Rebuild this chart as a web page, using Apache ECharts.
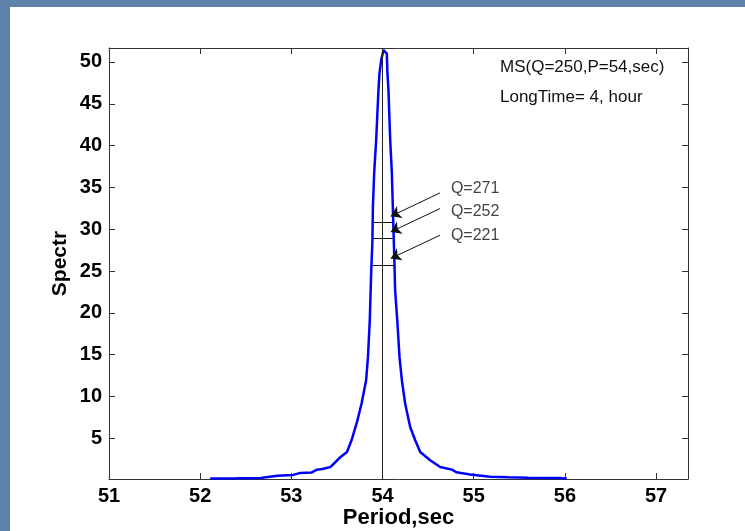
<!DOCTYPE html>
<html>
<head>
<meta charset="utf-8">
<script src="https://cdn.jsdelivr.net/npm/echarts@6/dist/echarts.min.js"></script>
<style>
html,body{margin:0;padding:0;background:#5e82aa;}
#c{width:745px;height:531px;}
</style>
</head>
<body>
<div id="c"></div>
<script>
// ---- data ----
const period = [52.11, 52.40, 52.67, 52.70, 52.85, 53.02, 53.10, 53.22, 53.28, 53.34, 53.43, 53.54, 53.61, 53.66, 53.72, 53.77, 53.82, 53.84, 53.86, 53.875, 53.889, 53.894, 53.908, 53.93, 53.955, 53.966, 53.985, 54.01, 54.03, 54.047, 54.054, 54.065, 54.084, 54.102, 54.113, 54.131, 54.138, 54.164, 54.186, 54.212, 54.248, 54.303, 54.358, 54.413, 54.522, 54.632, 54.761, 54.81, 54.96, 55.18, 55.38, 55.60, 55.94, 56.02];
const spectr = [0.20, 0.22, 0.25, 0.32, 0.52, 0.62, 0.86, 0.90, 1.25, 1.32, 1.57, 2.76, 3.36, 4.76, 6.95, 9.15, 11.94, 14.7, 19.1, 24.7, 28.7, 32.6, 36.7, 40.65, 46.6, 48.6, 50.2, 51.4, 51.6, 51.0, 48.6, 46.6, 40.65, 36.7, 32.6, 25.7, 22.7, 18.7, 14.7, 11.94, 9.15, 6.35, 4.76, 3.36, 2.37, 1.57, 1.25, 0.94, 0.66, 0.41, 0.33, 0.28, 0.25, 0.20];
const xTicks = [51, 52, 53, 54, 55, 56, 57];
const yTicks = [5, 10, 15, 20, 25, 30, 35, 40, 45, 50];
const xRange = [51, 57.35];
const yRange = [0.13, 51.67];
const centerPeriod = 54;
// Q-width annotations
const qLabels = ['Q=271', 'Q=252', 'Q=221'];
const qLevels = [30.8, 28.9, 25.7];
const qLeft = [53.905, 53.895, 53.889];
const qRight = [54.104, 54.113, 54.131];
const arrowFromX = 54.63;
const arrowFromY = [34.34, 32.47, 29.28];
const arrowToX = 54.09;
const arrowToY = [31.55, 29.68, 26.5];
const qTextX = 54.75;
const qTextY = [34.9, 32.07, 29.2];
const infoLines = ['MS(Q=250,P=54,sec)', 'LongTime= 4, hour'];

// ---- build ----
const FONT = '"Liberation Sans", Arial, sans-serif';
const curve = period.map((p, i) => [p, spectr[i]]);
const hLines = qLevels.map((y, i) => ({coords: [[qLeft[i], y], [qRight[i], y]]}));
const arrows = arrowFromY.map((y, i) => ({coords: [[arrowFromX, y], [arrowToX, arrowToY[i]]]}));
const qText = qLabels.map((t, i) => ({value: [qTextX, qTextY[i]], name: t}));

const axisLine = {show: true, lineStyle: {color: '#333', width: 1}};
const tickIn = (vals) => ({show: true, inside: true, length: 6, lineStyle: {color: '#333', width: 1}, customValues: vals});

const chart = echarts.init(document.getElementById('c'), null, {renderer: 'canvas'});
chart.setOption({
  animation: false,
  backgroundColor: '#5e82aa',
  textStyle: {fontFamily: FONT},
  graphic: [
    {type: 'rect', z: -100, silent: true, shape: {x: 10, y: 7, width: 735, height: 524}, style: {fill: '#ffffff'}},
    {type: 'text', left: 500, top: 59, style: {text: infoLines[0], font: '17px ' + FONT, fill: '#111'}},
    {type: 'text', left: 500, top: 89, style: {text: infoLines[1], font: '17px ' + FONT, fill: '#111'}}
  ],
  grid: {left: 109, right: 57, top: 48, bottom: 52, outerBoundsMode: 'none', containLabel: false},
  xAxis: [
    {type: 'value', min: xRange[0], max: xRange[1], position: 'bottom',
     name: 'Period,sec', nameLocation: 'middle', nameGap: 28, nameMoveOverlap: false,
     nameTextStyle: {fontSize: 22, color: '#000', fontFamily: FONT, fontWeight: 'bold'},
     axisLine: axisLine, axisTick: tickIn(xTicks), splitLine: {show: false},
     axisLabel: {show: true, customValues: xTicks, fontSize: 20, color: '#000', fontWeight: 'bold', margin: 7, fontFamily: FONT}},
    {type: 'value', min: xRange[0], max: xRange[1], position: 'top',
     axisLine: axisLine, axisTick: tickIn(xTicks), splitLine: {show: false}, axisLabel: {show: false}}
  ],
  yAxis: [
    {type: 'value', min: yRange[0], max: yRange[1], position: 'left',
     name: 'Spectr', nameLocation: 'middle', nameGap: 38, nameMoveOverlap: false,
     nameTextStyle: {fontSize: 21, color: '#000', fontFamily: FONT, fontWeight: 'bold'},
     axisLine: axisLine, axisTick: tickIn(yTicks), splitLine: {show: false},
     axisLabel: {show: true, customValues: yTicks, fontSize: 20, color: '#000', fontWeight: 'bold', margin: 7, fontFamily: FONT}},
    {type: 'value', min: yRange[0], max: yRange[1], position: 'right',
     axisLine: axisLine, axisTick: tickIn(yTicks), splitLine: {show: false}, axisLabel: {show: false}}
  ],
  series: [
    {type: 'line', data: curve, showSymbol: false, symbol: 'none', z: 3,
     lineStyle: {color: '#0000ff', width: 2.5},
     markLine: {silent: true, symbol: 'none', label: {show: false},
       lineStyle: {color: '#222', width: 1, type: 'solid'},
       data: [{xAxis: centerPeriod}]}},
    {type: 'lines', coordinateSystem: 'cartesian2d', z: 4, data: hLines,
     lineStyle: {color: '#111', width: 1, opacity: 1}, symbol: 'none'},
    {type: 'lines', coordinateSystem: 'cartesian2d', z: 4, data: arrows,
     lineStyle: {color: '#111', width: 1, opacity: 1}, symbol: ['none', 'arrow'], symbolSize: 10},
    {type: 'scatter', data: qText, symbolSize: 0, z: 5,
     label: {show: true, position: 'right', distance: 0, formatter: (p) => p.name, fontSize: 16, color: '#111', fontFamily: FONT}}
  ]
});
</script>
</body>
</html>
